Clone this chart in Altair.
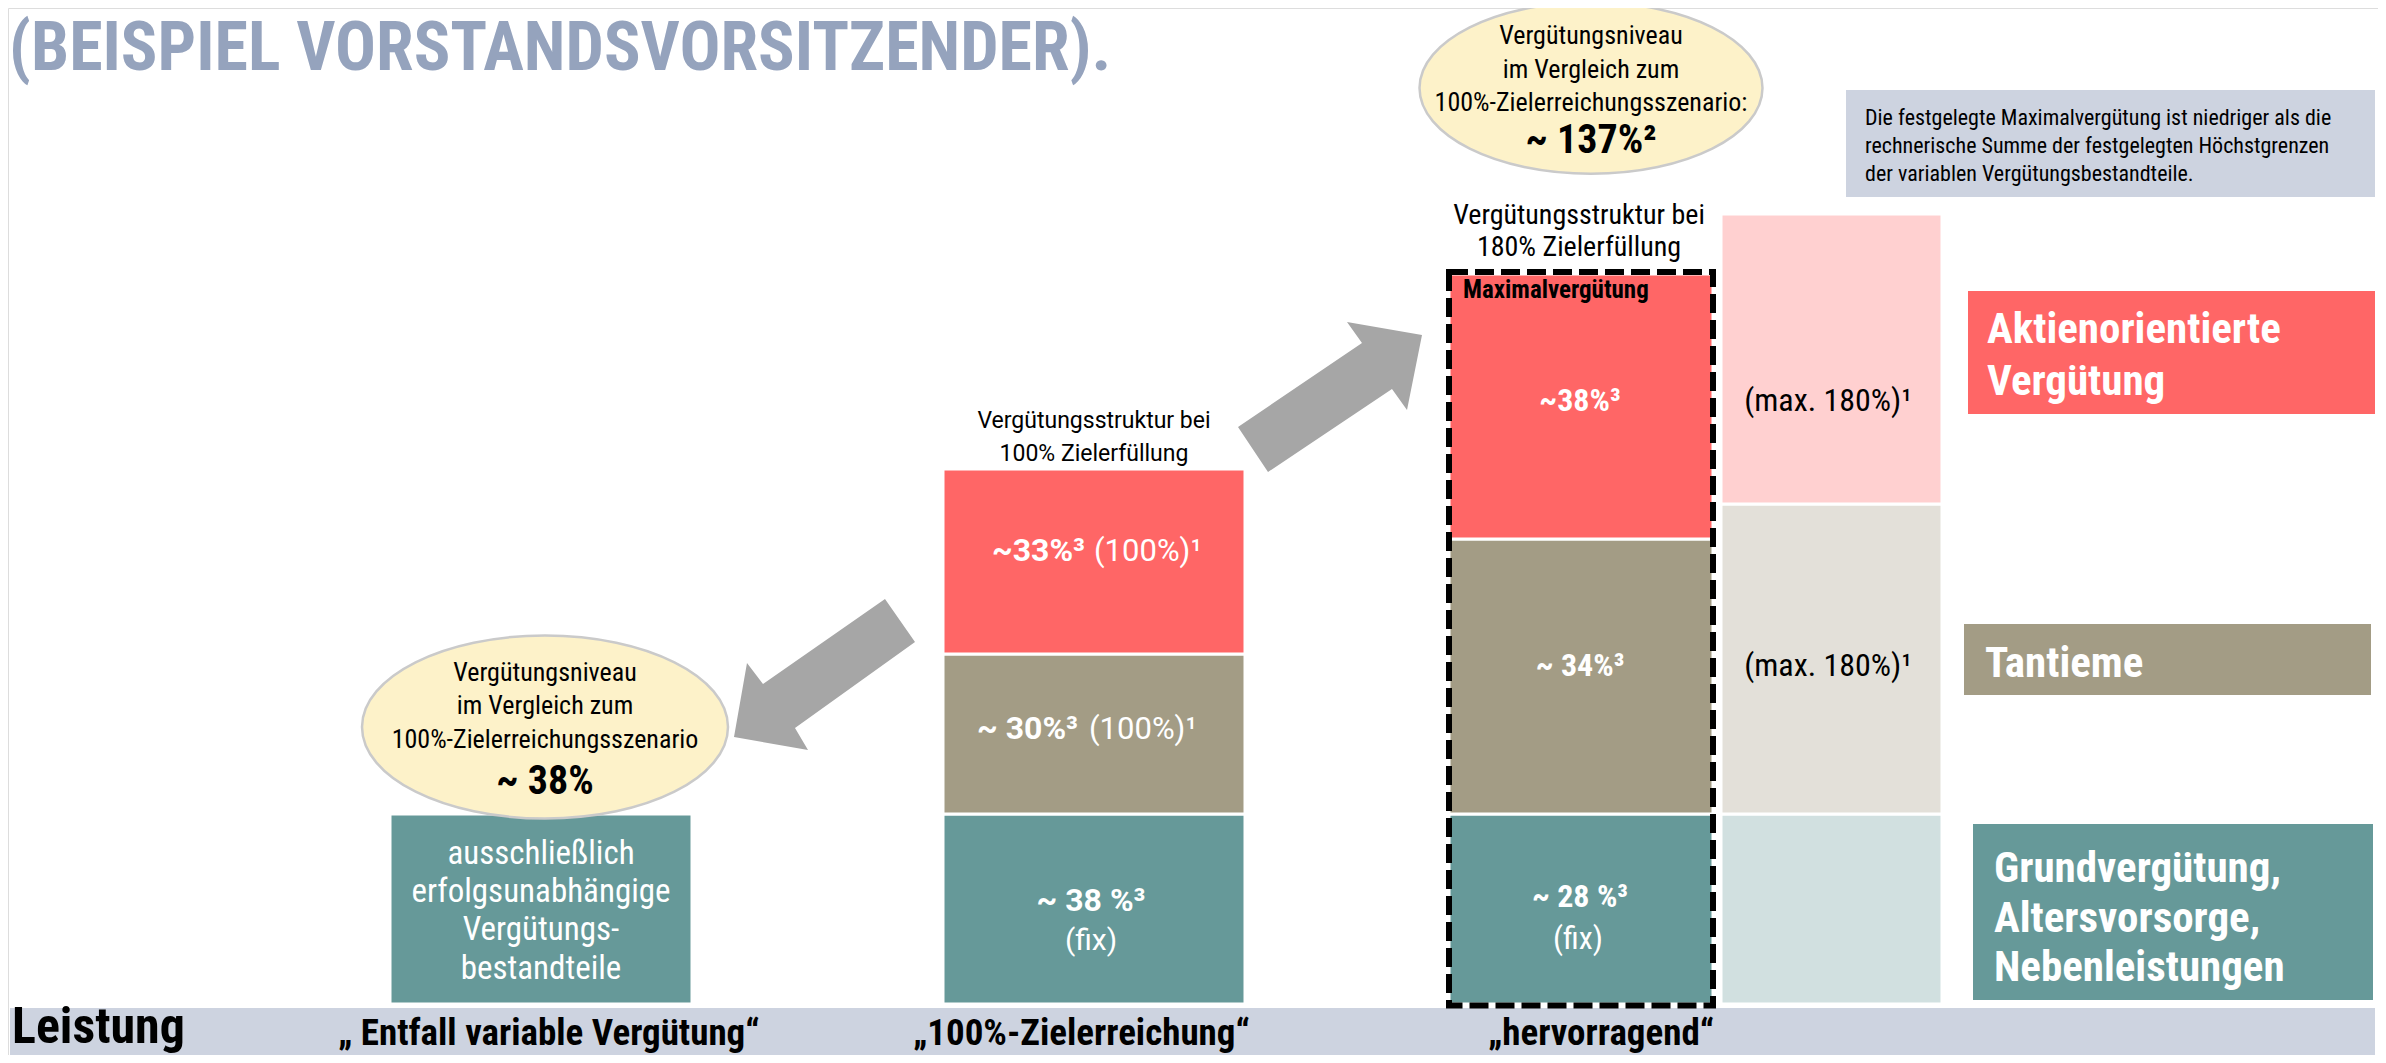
import altair as alt
import pandas as pd

# ------------------------------------------------------------------ data
scenarios = ["„ Entfall variable Vergütung“", "„100%-Zielerreichung“", "„hervorragend“"]
components = ["Grundvergütung,|Altersvorsorge,|Nebenleistungen", "Tantieme", "Aktienorientierte|Vergütung"]
# segment heights (level units, fixed part = 38), bottom -> top
levels_entfall = [38]
levels_ziel100 = [38, 32, 37]
levels_hervorragend = [38, 55, 53]
levels_cap = [38, 62, 58]
shares_ziel100 = ["~ 38 %³", "~ 30%³", "~33%³"]
targets_ziel100 = ["(fix)", "(100%)¹", "(100%)¹"]
shares_hervorragend = ["~ 28 %³", "~ 34%³", "~38%³"]
cap_labels = ["", "(max. 180%)¹", "(max. 180%)¹"]
niveau_entfall = "~ 38%"
niveau_hervorragend = "~ 137%²"
title_text = "(BEISPIEL VORSTANDSVORSITZENDER)."
note_lines = ["Die festgelegte Maximalvergütung ist niedriger als die",
              "rechnerische Summe der festgelegten Höchstgrenzen",
              "der variablen Vergütungsbestandteile."]
niveau_lines = ["Vergütungsniveau", "im Vergleich zum", "100%-Zielerreichungsszenario"]
entfall_lines = ["ausschließlich", "erfolgsunabhängige", "Vergütungs-", "bestandteile"]
struct_100 = ["Vergütungsstruktur bei", "100% Zielerfüllung"]
struct_180 = ["Vergütungsstruktur bei", "180% Zielerfüllung"]

# ------------------------------------------------------------------ styles / layout
RED, TAN, TEAL = "#FF6666", "#A39C85", "#669999"
RED_L, TAN_L, TEAL_L = "#FFD0D0", "#E3E0D9", "#D1E0E0"
BAND, TITLE_C = "#CDD3E0", "#95A3BD"
ELL_FILL, ELL_STROKE, ARROW_C = "#FDF2C9", "#CACACA", "#A6A6A6"
COND = "Liberation Sans Narrow, Arial Narrow, Roboto Condensed, DejaVu Sans Condensed, sans-serif"
ROBO = "Roboto, sans-serif"

W, H = 2370, 1047
XS = dict(domain=[8, 8 + W], zero=False, nice=False)
YS = dict(domain=[8, 8 + H], reverse=True, zero=False, nice=False)
BASE_PX, PX_PER_LEVEL = 1004, 5.0
LEVEL_DOMAIN = [(BASE_PX - (8 + H)) / PX_PER_LEVEL, (BASE_PX - 8) / PX_PER_LEVEL]

bar_x = {"entfall": (390, 692), "ziel100": (943, 1245), "herv": (1449, 1713), "cap": (1721, 1942)}
strong = [TEAL, TAN, RED]
light = [TEAL_L, TAN_L, RED_L]


def px_x(f):
    return alt.X(f, scale=alt.Scale(**XS), axis=None)


def px_y(f):
    return alt.Y(f, scale=alt.Scale(**YS), axis=None)


# ------------------------------------------------------------------ bars
rows = []
for key, vals, cols in [("entfall", levels_entfall, strong), ("ziel100", levels_ziel100, strong),
                        ("herv", levels_hervorragend, strong), ("cap", levels_cap, light)]:
    acc = 0
    for i, v in enumerate(vals):
        rows.append(dict(bar=key, comp=components[i], x0=bar_x[key][0], x1=bar_x[key][1],
                         v0=acc, v1=acc + v, fill=cols[i]))
        acc += v
seg = pd.DataFrame(rows)

bars = alt.Chart(seg).mark_rect(stroke="white", strokeWidth=3).encode(
    x=px_x("x0:Q"), x2="x1:Q",
    y=alt.Y("v0:Q", scale=alt.Scale(domain=LEVEL_DOMAIN, zero=False, nice=False), axis=None),
    y2="v1:Q",
    color=alt.Color("fill:N", scale=None, legend=None),
)

herv_total = sum(levels_hervorragend)
frame = alt.Chart(pd.DataFrame([dict(x0=1449, x1=1713, v0=-0.3, v1=herv_total + 0.4)])).mark_rect(
    fillOpacity=0, stroke="black", strokeWidth=6, strokeDash=[19, 7]).encode(
    x=px_x("x0:Q"), x2="x1:Q",
    y=alt.Y("v0:Q", scale=alt.Scale(domain=LEVEL_DOMAIN, zero=False, nice=False), axis=None),
    y2="v1:Q",
)

# ------------------------------------------------------------------ boxes (band, note, legend)
boxes = pd.DataFrame([
    dict(x0=10, x1=2375, y0=1008, y1=1063, fill=BAND),
    dict(x0=1846, x1=2375, y0=90, y1=197, fill=BAND),
    dict(x0=1968, x1=2375, y0=291, y1=414, fill=RED),
    dict(x0=1964, x1=2371, y0=624, y1=695, fill=TAN),
    dict(x0=1973, x1=2373, y0=824, y1=1000, fill=TEAL),
])
box_layer = alt.Chart(boxes).mark_rect().encode(
    x=px_x("x0:Q"), x2="x1:Q", y=px_y("y0:Q"), y2="y1:Q",
    color=alt.Color("fill:N", scale=None, legend=None))

# ------------------------------------------------------------------ ellipses and arrows
ELLIPSE = "M-1,0 A1,0.5 0 1,0 1,0 A1,0.5 0 1,0 -1,0 Z"
ell = pd.DataFrame([dict(x=545, y=727, size=366 ** 2), dict(x=1591, y=88, size=343 ** 2)])
ell_layer = alt.Chart(ell).mark_point(shape=ELLIPSE, filled=True, fill=ELL_FILL, stroke=ELL_STROKE,
                                      strokeWidth=2.5, opacity=1).encode(
    x=px_x("x:Q"), y=px_y("y:Q"), size=alt.Size("size:Q", scale=None, legend=None))

arrow_polys = [
    [(885, 599), (763, 684), (747, 663), (734, 737), (808, 750), (795, 728), (915, 642)],
    [(1238, 427), (1362, 343), (1347, 322), (1422, 335), (1407, 410), (1392, 389), (1268, 472)],
]


def poly_path(pts):
    xs = [p[0] for p in pts]
    ys = [p[1] for p in pts]
    cx, cy = (min(xs) + max(xs)) / 2, (min(ys) + max(ys)) / 2
    s = max(max(xs) - min(xs), max(ys) - min(ys)) / 2
    path = "M" + " L".join(f"{(x - cx) / s:.4f},{(y - cy) / s:.4f}" for x, y in pts) + " Z"
    return dict(x=cx, y=cy, shape=path, size=(2 * s) ** 2)


arr = pd.DataFrame([poly_path(p) for p in arrow_polys])
arrow_layer = alt.Chart(arr).mark_point(filled=True, fill=ARROW_C, strokeWidth=0, opacity=1).encode(
    x=px_x("x:Q"), y=px_y("y:Q"), size=alt.Size("size:Q", scale=None, legend=None),
    shape=alt.Shape("shape:N", scale=None, legend=None))

# ------------------------------------------------------------------ texts
def T(x, y, text, size, color="black"):
    return dict(x=x, y=y, text=text, size=size, color=color)


def text_layer(items, font, weight, align):
    return alt.Chart(pd.DataFrame(items)).mark_text(
        font=font, fontWeight=weight, align=align, baseline="alphabetic").encode(
        x=px_x("x:Q"), y=px_y("y:Q"), text="text:N",
        size=alt.Size("size:Q", scale=None, legend=None),
        color=alt.Color("color:N", scale=None, legend=None))


comp_lines = [c.split("|") for c in components]
cond_bold_left = [
    T(9, 70, title_text, 68, TITLE_C),
    T(12, 1043, "Leistung", 50),
    T(338, 1045, scenarios[0], 37),
    T(913, 1045, scenarios[1], 37),
    T(1488, 1045, scenarios[2], 37),
    T(1463, 298, "Maximalvergütung", 25),
    T(1987, 343, comp_lines[2][0], 43, "white"),
    T(1987, 395, comp_lines[2][1], 43, "white"),
    T(1985, 677, comp_lines[1][0], 43, "white"),
    T(1994, 882, comp_lines[0][0], 43, "white"),
    T(1994, 932, comp_lines[0][1], 43, "white"),
    T(1994, 981, comp_lines[0][2], 43, "white"),
]
cond_bold_center = [
    T(545, 794, niveau_entfall, 40),
    T(1591, 153, niveau_hervorragend, 40),
    T(1580, 411, shares_hervorragend[2], 32, "white"),
    T(1580, 676, shares_hervorragend[1], 32, "white"),
    T(1580, 907, shares_hervorragend[0], 32, "white"),
]
cond_reg_center = (
    [T(545, y, t, 26) for y, t in zip([681, 714, 748], niveau_lines)]
    + [T(1591, y, t, 26) for y, t in zip([44, 78, 111], niveau_lines[:2] + [niveau_lines[2] + ":"])]
    + [T(541, y, t, 33, "white") for y, t in zip([864, 902, 940, 979], entfall_lines)]
    + [T(1579, y, t, 28) for y, t in zip([224, 256], struct_180)]
    + [T(1578, 949, "(fix)", 32, "white")]
    + [T(1828, 411, cap_labels[2], 32), T(1828, 676, cap_labels[1], 32)]
)
cond_reg_left = [T(1865, y, t, 22) for y, t in zip([125, 153, 181], note_lines)]
robo_reg_center = [T(1094, y, t, 23) for y, t in zip([428, 461], struct_100)] + [
    T(1091, 950, targets_ziel100[0], 30, "white")]
robo_bold_right = [T(1085, 561, shares_ziel100[2], 32, "white"),
                   T(1078, 739, shares_ziel100[1], 32, "white")]
robo_reg_left = [T(1094, 561, targets_ziel100[2], 31, "white"),
                 T(1089, 739, targets_ziel100[1], 31, "white")]
robo_bold_center = [T(1091, 911, shares_ziel100[0], 32, "white")]

texts = [
    text_layer(cond_bold_left, COND, "bold", "left"),
    text_layer(cond_bold_center, COND, "bold", "center"),
    text_layer(cond_reg_center, COND, "normal", "center"),
    text_layer(cond_reg_left, COND, "normal", "left"),
    text_layer(robo_reg_center, ROBO, "normal", "center"),
    text_layer(robo_bold_right, ROBO, "bold", "right"),
    text_layer(robo_reg_left, ROBO, "normal", "left"),
    text_layer(robo_bold_center, ROBO, "bold", "center"),
]

chart = alt.layer(box_layer, bars, frame, arrow_layer, ell_layer, *texts).resolve_scale(
    x="independent", y="independent").properties(
    width=W, height=H, padding=0, autosize=alt.AutoSizeParams(type="none")).configure_view(
    stroke=None).configure(background="white")

chart.save("out.html", embed_options={"renderer": "svg", "actions": False})
